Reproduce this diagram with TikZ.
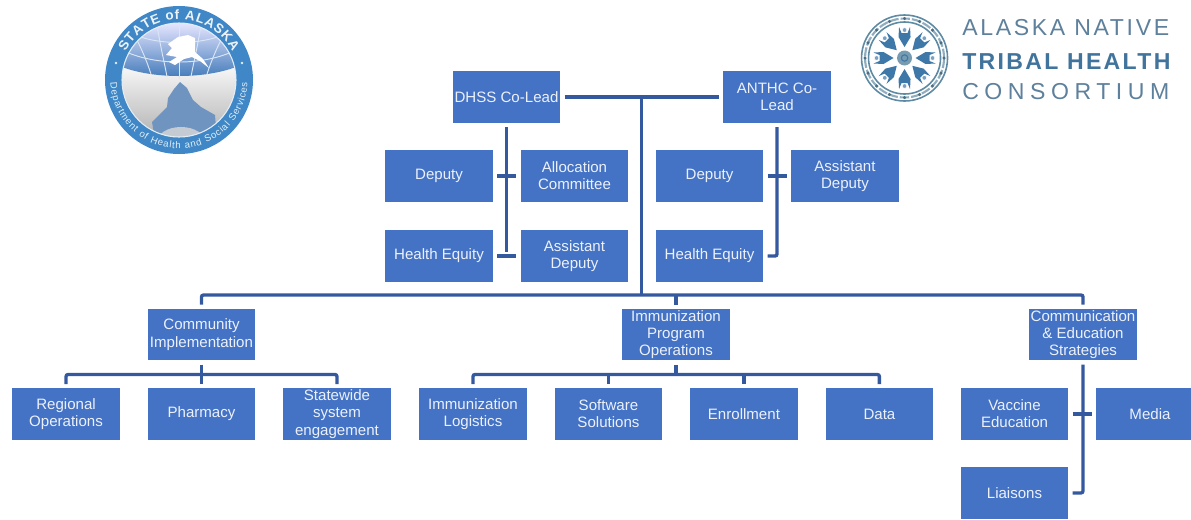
\documentclass[tikz,border=0pt]{standalone}
\usepackage{fontspec}
\setmainfont{Liberation Sans}
\usetikzlibrary{positioning, calc, decorations.text}
\definecolor{boxblue}{HTML}{4472C4}
\definecolor{linkblue}{HTML}{35599F}
\definecolor{sealblue}{HTML}{3F87C6}
\definecolor{globeblue}{HTML}{3F78B8}
\definecolor{hillblue}{HTML}{6F94C0}
\definecolor{wheelblue}{HTML}{5F8AA3}
\definecolor{figblue}{HTML}{3D78A8}
\definecolor{logotext}{HTML}{5D809C}
\definecolor{logobold}{HTML}{41749C}
\tikzset{%
	box/.style={rectangle, fill=boxblue, text=white!90!boxblue, minimum width=80.6pt, minimum height=38.6pt,%
		inner sep=0pt, align=center, font=\fontsize{11.3}{12.9}\selectfont},
	link/.style={draw=linkblue, line width=2.5pt, rounded corners=1.5pt, shorten >=3pt, shorten <=3pt},
	stem/.style={link, shorten >=0pt},
	meridian/.style={draw=white!80!sealblue, line width=0.7pt},
	logoline/.style={anchor=base west, inner sep=0pt, font=\fontsize{17.3}{20}\selectfont}
}

\begin{document}
\begin{tikzpicture}[x=0.75pt, y=-0.75pt, node distance=21pt and 20.6pt]
	\useasboundingbox (0,0) rectangle (1191,519);
	\clip (0,0) rectangle (1191,519);

	% state seal
	\begin{scope}[x=0.75pt, y=0.75pt, shift={(134.25pt,-60pt)}]
		\fill[sealblue] (0,0) circle (74);
		\begin{scope}
			\clip (0,0) circle (57);
			\shade[top color=black!3, bottom color=black!30] (-57,-57) rectangle (57,14);
			\shade[top color=blue!10!white, bottom color=globeblue] (-57,57) -- (57,57) -- (57,13) .. controls (25,1) and (-25,1) .. (-57,13) -- cycle;
			\draw[meridian] (-57,30) .. controls (-25,14) and (25,14) .. (57,30);
			\draw[meridian] (-50,48) .. controls (-25,34) and (25,34) .. (50,48);
			\draw[meridian] (0,57) -- (0,1);
			\draw[meridian] (-22,55) .. controls (-18,30) and (-14,15) .. (-12,3);
			\draw[meridian] (22,55) .. controls (18,30) and (14,15) .. (12,3);
			\draw[meridian] (-42,40) .. controls (-36,28) and (-32,18) .. (-28,6);
			\draw[meridian] (42,40) .. controls (36,28) and (32,18) .. (28,6);
			\fill[white] (-1,43) -- (9,45) -- (16,42) -- (16,28) -- (24,21) -- (30,12) -- (21,19) -- (13,23) -- (5,21) -- (-4,15) -- (-10,18) -- (-2,23) -- (-13,25) -- (-7,32) -- (-11,36) -- cycle;
			\fill[hillblue] (1,-2) -- (-5,-9) -- (-11,-18) -- (-12,-27) -- (-27,-42) -- (-24,-60) -- (38,-60) -- (36,-35) -- (22,-27) -- (14,-20) -- (8,-8) -- cycle;
			\fill[hillblue!55!black!30!white] (2,-62) ellipse (24 and 15);
		\end{scope}
		\draw[white!85!sealblue, line width=0.8pt] (0,0) circle (57);
		\fill[white!85!sealblue] (-63,17) circle (1.3);
		\fill[white!85!sealblue] (63,17) circle (1.3);
		\path[decorate, decoration={text along path, text align={fit to path}, text color=white!90!sealblue,%
			text={|\fontsize{10}{12}\selectfont\bfseries|STATE of ALASKA}}] (152:60.5) arc (152:28:60.5);
		\path[decorate, decoration={text along path, text align={fit to path}, text color=white!85!sealblue,%
			text={|\fontsize{7.2}{9}\selectfont|Department of Health and Social Services}}] (182:68.5) arc (182:358:68.5);
	\end{scope}

	% consortium wheel
	\begin{scope}[x=0.75pt, y=0.75pt, shift={(678.4pt,-43.5pt)}]
		\draw[wheelblue, line width=1.2pt] (0,0) circle (43);
		\draw[wheelblue, line width=1.2pt] (0,0) circle (36);
		\draw[wheelblue!70!white, line width=1.6pt, dash pattern=on 7pt off 1.5pt] (0,0) circle (39.5);
		\foreach \a in {0,22.5,...,337.5}
			\fill[wheelblue!80!black] (\a:39.5) circle (1.7);
		\foreach \a in {0,45,...,315} {
			\fill[figblue, rotate=\a] (11,0) -- (21,-6) -- (31,-5.5) -- (25,-3) -- (25,3) -- (31,5.5) -- (21,6) -- cycle;
			\fill[white!30!figblue, draw=white, line width=0.5pt, rotate=\a] (28,0) circle (2.4);
		}
		\fill[wheelblue!85!white] (0,0) circle (7.5);
		\draw[figblue, line width=0.8pt] (0,0) circle (3.2);
	\end{scope}
	\node[logoline, text=logotext] (title1) at (962,35) {\addfontfeature{LetterSpace=11.5}ALASKA NATIVE};
	\node[logoline, text=logobold] (title2) at (962,69) {\addfontfeature{LetterSpace=10}\bfseries TRIBAL HEALTH};
	\node[logoline, text=logotext] (title3) at (962,99) {\addfontfeature{LetterSpace=24}CONSORTIUM};

	\node[box] (dhss) at (506.5,97) {DHSS Co-Lead};
	\node[box] (anthc) at (777,97) {ANTHC Co-\\Lead};

	\node[box] (deputy1) at (439,176) {Deputy};
	\node[box, right=of deputy1] (alloc) {Allocation\\Committee};
	\node[box, below=of deputy1] (equity1) {Health Equity};
	\node[box, right=of equity1] (assist1) {Assistant\\Deputy};

	\node[box] (deputy2) at (709.5,176) {Deputy};
	\node[box, right=of deputy2] (assist2) {Assistant\\Deputy};
	\node[box, below=of deputy2] (equity2) {Health Equity};

	\node[box] (community) at (201.5,334.5) {Community\\Implementation};
	\node[box] (immunization) at (676,334.5) {Immunization\\Program\\Operations};
	\node[box] (strategies) at (1083,334.5) {Communication\\\& Education\\Strategies};

	\node[box] (pharmacy) at (201.5,414) {Pharmacy};
	\node[box, left=of pharmacy] (regional) {Regional\\Operations};
	\node[box, right=of pharmacy] (statewide) {Statewide\\system\\engagement};

	\node[box] (logistics) at (473,414) {Immunization\\Logistics};
	\node[box, right=of logistics] (software) {Software\\Solutions};
	\node[box, right=of software] (enrollment) {Enrollment};
	\node[box, right=of enrollment] (data) {Data};

	\node[box] (vaccine) at (1014.5,414) {Vaccine\\Education};
	\node[box, right=of vaccine] (media) {Media};
	\node[box, below=20.2pt of vaccine] (liaisons) {Liaisons};

	\coordinate (cotop) at ($(dhss)!0.5!(anthc)$);
	\coordinate (topbus) at (0,295);
	\coordinate (lowbus) at (0,374.5);
	\coordinate (dhssend) at ($(equity1)!0.5!(assist1)$);

	\draw[link] (dhss) to (anthc);
	\draw[link, shorten <=0pt, shorten >=0pt] (cotop) to (cotop |- topbus);
	\draw[link] (dhss) to (dhss |- dhssend);
	\draw[link] (deputy1) to (alloc);
	\draw[link] (equity1) to (assist1);
	\draw[link] (anthc) |- (equity2);
	\draw[link] (deputy2) to (assist2);

	\draw[link] (community.north) -- (community.north |- topbus) -- (strategies.north |- topbus) -- (strategies.north);
	\draw[stem] (immunization.north) to (immunization.north |- topbus);

	\draw[link] (community) to (pharmacy);
	\draw[link] (regional.north) -- (regional.north |- lowbus) -- (statewide.north |- lowbus) -- (statewide.north);

	\draw[stem] (immunization.south) to (immunization.south |- lowbus);
	\draw[link] (logistics.north) -- (logistics.north |- lowbus) -- (data.north |- lowbus) -- (data.north);
	\draw[stem] (software.north) to (software.north |- lowbus);
	\draw[stem] (enrollment.north) to (enrollment.north |- lowbus);

	\draw[link] (strategies) |- (liaisons);
	\draw[link] (vaccine) to (media);
\end{tikzpicture}
\end{document}
